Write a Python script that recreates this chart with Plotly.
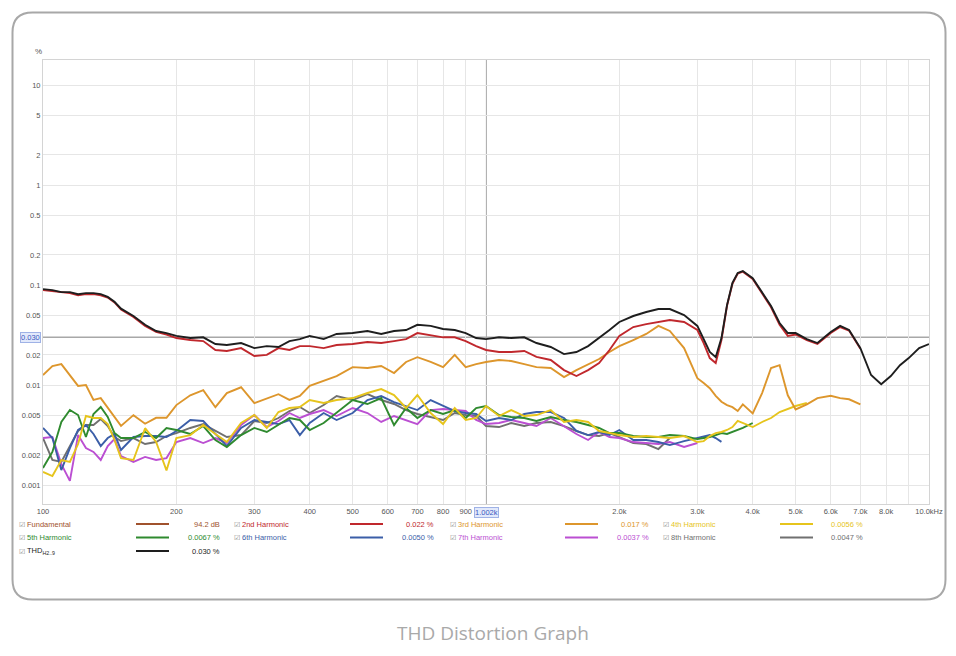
import math

import plotly.graph_objects as go

# frequency grid (Hz) shared by all traces; each series runs as far as it has values
FREQ = [100, 105, 110, 115, 120, 125, 130, 135, 140, 145, 150, 160, 170, 180, 190,
        200, 215, 230, 245, 260, 280, 300, 320, 340, 360, 380, 400, 430, 460, 500,
        540, 580, 620, 660, 700, 750, 800, 850, 900, 950, 1000, 1070, 1140, 1220,
        1300, 1400, 1500, 1600, 1700, 1800, 1900, 2000, 2150, 2300, 2450, 2600,
        2800, 3000, 3100, 3200, 3300, 3400, 3500, 3600, 3700, 3800, 4000, 4200,
        4400, 4600, 4800, 5000, 5300, 5600, 6000, 6300, 6600, 7000, 7400, 7800,
        8200, 8600, 9000, 9500, 10000]

# distortion in %
THD = [0.091, 0.089, 0.085, 0.085, 0.081, 0.083, 0.083, 0.081, 0.076, 0.068,
       0.058, 0.049, 0.040, 0.0347, 0.0331, 0.031, 0.0295, 0.030, 0.0257, 0.0251,
       0.0263, 0.0234, 0.0245, 0.024, 0.0275, 0.0288, 0.031, 0.0288, 0.0324, 0.0331,
       0.0347, 0.0324, 0.0347, 0.0355, 0.040, 0.039, 0.0363, 0.0355, 0.0331, 0.0295,
       0.0288, 0.030, 0.0295, 0.030, 0.0263, 0.024, 0.0204, 0.0214, 0.0245, 0.0295,
       0.0355, 0.0427, 0.049, 0.0537, 0.0575, 0.0575, 0.050, 0.039, 0.0282, 0.0214,
       0.0190, 0.0295, 0.063, 0.105, 0.132, 0.138, 0.117, 0.085, 0.0617, 0.0417,
       0.0331, 0.0331, 0.0288, 0.0263, 0.0339, 0.039, 0.0355, 0.0234, 0.0126, 0.0102,
       0.0123, 0.0158, 0.0186, 0.0234, 0.0257]
H2 = [0.089, 0.087, 0.084, 0.083, 0.079, 0.081, 0.081, 0.079, 0.075, 0.067,
      0.057, 0.048, 0.039, 0.034, 0.032, 0.0295, 0.0282, 0.0275, 0.0224, 0.0219,
      0.0234, 0.0195, 0.020, 0.0234, 0.0224, 0.0245, 0.0245, 0.0234, 0.0251, 0.0257,
      0.0269, 0.0263, 0.0275, 0.0288, 0.0331, 0.0316, 0.030, 0.030, 0.0275, 0.0245,
      0.0224, 0.0214, 0.0214, 0.0219, 0.0191, 0.0178, 0.0141, 0.0123, 0.0141, 0.0166,
      0.0224, 0.031, 0.038, 0.0407, 0.0427, 0.0447, 0.0427, 0.0355, 0.0263, 0.0186,
      0.0166, 0.0282, 0.062, 0.103, 0.130, 0.136, 0.115, 0.083, 0.060, 0.040,
      0.031, 0.032, 0.0282, 0.0257, 0.0331, 0.038, 0.035, 0.023]
H3 = [0.0126, 0.0155, 0.0162, 0.0126, 0.0098, 0.010, 0.0071, 0.0074, 0.0059, 0.0047,
      0.0039, 0.005, 0.0041, 0.0047, 0.0047, 0.0063, 0.0079, 0.0089, 0.006, 0.0083,
      0.0095, 0.0066, 0.0074, 0.0081, 0.0071, 0.0078, 0.0098, 0.011, 0.0123, 0.0151,
      0.0148, 0.0155, 0.0132, 0.017, 0.019, 0.017, 0.0151, 0.020, 0.0151, 0.0162,
      0.017, 0.0178, 0.0174, 0.0162, 0.0151, 0.0148, 0.012, 0.0141, 0.0162, 0.0182,
      0.0214, 0.0245, 0.0282, 0.0324, 0.039, 0.0347, 0.0234, 0.0117, 0.0105, 0.0093,
      0.0078, 0.0068, 0.0063, 0.006, 0.0055, 0.0064, 0.0052, 0.0083, 0.0148, 0.0158,
      0.0079, 0.0057, 0.0064, 0.0074, 0.0078, 0.0074, 0.0072, 0.0064]
H4 = [0.00135, 0.00123, 0.00178, 0.0017, 0.00257, 0.0049, 0.00468, 0.00468, 0.00407, 0.00282,
      0.00186, 0.00178, 0.0037, 0.0027, 0.0014, 0.00295, 0.00316, 0.00398, 0.00324, 0.00269,
      0.00417, 0.00501, 0.00372, 0.00537, 0.00589, 0.00603, 0.00708, 0.00661, 0.00708, 0.00741,
      0.00832, 0.00912, 0.00794, 0.00589, 0.00794, 0.00525, 0.00407, 0.00589, 0.00447, 0.00468,
      0.00617, 0.0049, 0.00562, 0.0049, 0.00501, 0.00562, 0.00427, 0.00447, 0.00427, 0.00347,
      0.00331, 0.00316, 0.00302, 0.00309, 0.00302, 0.00295, 0.00309, 0.00269, 0.00275, 0.00309,
      0.00331, 0.00339, 0.00355, 0.0038, 0.00437, 0.00417, 0.0038, 0.00427, 0.00468, 0.00537,
      0.00575, 0.00617, 0.00661]
H5 = [0.00148, 0.00214, 0.00427, 0.00562, 0.00501, 0.00302, 0.00513, 0.00603, 0.00479, 0.00331,
      0.00295, 0.00295, 0.00339, 0.00295, 0.00372, 0.00355, 0.00324, 0.00389, 0.00282, 0.0024,
      0.00316, 0.00372, 0.00339, 0.00398, 0.00468, 0.00447, 0.00355, 0.00417, 0.00525, 0.00708,
      0.00646, 0.00741, 0.00398, 0.00589, 0.00468, 0.00562, 0.00513, 0.00562, 0.00468, 0.00589,
      0.00617, 0.00501, 0.00479, 0.00468, 0.00437, 0.00479, 0.00447, 0.00427, 0.00398, 0.00372,
      0.00331, 0.00331, 0.00309, 0.00302, 0.00302, 0.00316, 0.00309, 0.00288, 0.00295, 0.00302,
      0.00316, 0.00331, 0.00324, 0.00339, 0.00355, 0.00372, 0.00417]
H6 = [0.00372, 0.00295, 0.00141, 0.00234, 0.00355, 0.00398, 0.00324, 0.00245, 0.00295, 0.00324,
      0.00224, 0.00302, 0.00309, 0.00309, 0.00302, 0.00347, 0.00447, 0.00437, 0.00324, 0.00245,
      0.00372, 0.00447, 0.00427, 0.00407, 0.00447, 0.00316, 0.00417, 0.00525, 0.00447, 0.00525,
      0.00708, 0.00776, 0.00676, 0.00617, 0.00562, 0.00708, 0.00617, 0.0055, 0.00525, 0.00513,
      0.00437, 0.00468, 0.00447, 0.00513, 0.00537, 0.00537, 0.00468, 0.00347, 0.00316, 0.00339,
      0.00316, 0.00355, 0.00282, 0.00282, 0.00269, 0.00251, 0.00275, 0.00295, 0.00302, 0.00316,
      0.00295, 0.0027]
H7 = [0.00295, 0.00302, 0.00162, 0.0011, 0.00316, 0.00234, 0.00214, 0.00178, 0.00245, 0.00288,
      0.00195, 0.0017, 0.00191, 0.00178, 0.00186, 0.00269, 0.00295, 0.00263, 0.00295, 0.00263,
      0.00398, 0.00501, 0.0038, 0.00437, 0.00525, 0.00468, 0.00513, 0.00562, 0.0049, 0.00589,
      0.00525, 0.00427, 0.0049, 0.00447, 0.00407, 0.00562, 0.00575, 0.00562, 0.0055, 0.00447,
      0.00407, 0.00417, 0.00447, 0.00417, 0.00389, 0.00468, 0.00389, 0.00324, 0.00282, 0.00339,
      0.00302, 0.00295, 0.00269, 0.00263, 0.00257, 0.00269, 0.0024, 0.00263]
H8 = [0.00295, 0.00178, 0.0017, 0.00245, 0.00347, 0.00398, 0.00398, 0.00457, 0.00389, 0.00302,
      0.00275, 0.00295, 0.00257, 0.00269, 0.00309, 0.00331, 0.00372, 0.00407, 0.00347, 0.00302,
      0.00316, 0.00437, 0.00417, 0.00468, 0.0055, 0.00603, 0.00525, 0.00631, 0.00776, 0.00708,
      0.00813, 0.00708, 0.00646, 0.00562, 0.00513, 0.00479, 0.00447, 0.00525, 0.00501, 0.0049,
      0.00389, 0.0038, 0.00417, 0.00389, 0.00417, 0.00427, 0.00389, 0.00347, 0.00316, 0.00309,
      0.00331, 0.00302, 0.00263, 0.00257, 0.00229, 0.00295]

X_TICKS = [100, 200, 300, 400, 500, 600, 700, 800, 900, 2000, 3000, 4000, 5000,
           6000, 7000, 8000, 10000]
X_LABELS = ["100", "200", "300", "400", "500", "600", "700", "800", "900", "2.0k",
            "3.0k", "4.0k", "5.0k", "6.0k", "7.0k", "8.0k", "10.0kHz"]
X_GRID_ONLY = [9000]
Y_TICKS = [0.001, 0.002, 0.005, 0.01, 0.02, 0.05, 0.1, 0.2, 0.5, 1, 2, 5, 10]
Y_LABELS = ["0.001", "0.002", "0.005", "0.01", "0.02", "0.05", "0.1", "0.2", "0.5",
            "1", "2", "5", "10"]

CURSOR_F = 1002
CURSOR_V = 0.030

LEG_NAMES = ["Fundamental", "2nd Harmonic", "3rd Harmonic", "4th Harmonic",
             "5th Harmonic", "6th Harmonic", "7th Harmonic", "8th Harmonic",
             "THD<sub>H2..9</sub>"]
LEG_VALUES = ["94.2 dB", "0.022 %", "0.017 %", "0.0056 %", "0.0067 %", "0.0050 %",
              "0.0037 %", "0.0047 %", "0.030 %"]

COLORS = {
    "Fundamental": "#a0522d",
    "2nd Harmonic": "#c0282d",
    "3rd Harmonic": "#dd962c",
    "4th Harmonic": "#e6c41c",
    "5th Harmonic": "#2f8a2f",
    "6th Harmonic": "#3b5ea8",
    "7th Harmonic": "#bb4fd2",
    "8th Harmonic": "#707070",
    "THD<sub>H2..9</sub>": "#1e1e1e",
}

W, H = 956, 656
PL, PR, PT, PB = 43, 929, 60, 504  # plot area in pixels


def px(x):
    return (x - PL) / (PR - PL)


def py(y):
    return (PB - y) / (PB - PT)


fig = go.Figure()

# back to front
traces = [
    ("8th Harmonic", H8), ("7th Harmonic", H7), ("6th Harmonic", H6),
    ("5th Harmonic", H5), ("4th Harmonic", H4), ("3rd Harmonic", H3),
    ("2nd Harmonic", H2), ("THD<sub>H2..9</sub>", THD),
]
for name, vals in traces:
    fig.add_trace(go.Scatter(
        x=FREQ[:len(vals)], y=vals, mode="lines", name=name,
        line=dict(color=COLORS[name], width=1.9),
        showlegend=False, hoverinfo="skip",
    ))

# cursor cross
fig.add_shape(type="line", xref="x", yref="paper", x0=CURSOR_F, x1=CURSOR_F,
              y0=0, y1=1, line=dict(color="#a8a8a8", width=1), layer="below")
fig.add_shape(type="line", xref="paper", yref="y", x0=0, x1=1,
              y0=CURSOR_V, y1=CURSOR_V, line=dict(color="#a8a8a8", width=1.5), layer="below")

font = "Liberation Sans, Arial, sans-serif"


def note(x, y, text, size, color, anchor="center", family=font, **kw):
    return dict(xref="paper", yref="paper", x=x, y=y, text=text, showarrow=False,
                xanchor=anchor, yanchor="middle",
                font=dict(size=size, color=color, family=family), **kw)


annotations = [
    note(px(38), py(52), "%", 8, "#555555"),
    note(px(493), py(633), "THD Distortion Graph", 19, "#a9a9a9",
         family="Open Sans, sans-serif"),
    dict(xref="x", yref="paper", x=math.log10(CURSOR_F), y=0, yshift=-3,
         yanchor="top", text="1.002k", showarrow=False,
         font=dict(size=7.5, color="#3a58c0", family=font),
         bgcolor="#e2e9fb", bordercolor="#9fb2e6", borderwidth=1, borderpad=0),
    dict(xref="paper", yref="y", x=0, y=math.log10(CURSOR_V), xshift=-2,
         xanchor="right", text="0.030", showarrow=False,
         font=dict(size=7.5, color="#3a58c0", family=font),
         bgcolor="#e2e9fb", bordercolor="#9fb2e6", borderwidth=1, borderpad=0),
]

# REW-style legend underneath the plot
name_x = [25, 240, 456, 669]
line_x = [136, 350, 565, 780]
val_x = [222, 436, 651, 865]
row_y = [524, 537.5, 551]
for i, (name, value) in enumerate(zip(LEG_NAMES, LEG_VALUES)):
    col, row = i % 4, i // 4
    c = COLORS[name]
    yy = py(row_y[row])
    annotations.append(note(px(name_x[col] - 8), yy, "☑", 6.5, "#888888", anchor="left"))
    annotations.append(note(px(name_x[col]), yy, name, 7.5, c, anchor="left"))
    annotations.append(note(px(val_x[col]), yy, value, 7.5, c, anchor="right"))
    fig.add_shape(type="line", xref="paper", yref="paper",
                  x0=px(line_x[col]), x1=px(line_x[col] + 33), y0=yy, y1=yy,
                  line=dict(color=c, width=2))

# rounded card frame
cl, cr, ct, cb, rad = 12.5, 945.5, 12.5, 599.5, 20
card = (f"M {px(cl + rad)},{py(ct)} L {px(cr - rad)},{py(ct)} "
        f"Q {px(cr)},{py(ct)} {px(cr)},{py(ct + rad)} L {px(cr)},{py(cb - rad)} "
        f"Q {px(cr)},{py(cb)} {px(cr - rad)},{py(cb)} L {px(cl + rad)},{py(cb)} "
        f"Q {px(cl)},{py(cb)} {px(cl)},{py(cb - rad)} L {px(cl)},{py(ct + rad)} "
        f"Q {px(cl)},{py(ct)} {px(cl + rad)},{py(ct)} Z")
fig.add_shape(type="path", xref="paper", yref="paper", path=card,
              line=dict(color="#a8a8a8", width=2))

axis_common = dict(
    type="log", showgrid=True, gridcolor="#e6e6e6", gridwidth=1,
    showline=True, linecolor="#d4d4d4", linewidth=1, mirror=True,
    ticks="", zeroline=False,
    tickfont=dict(size=7.5, color="#555555", family=font),
)
fig.update_layout(
    width=W, height=H,
    margin=dict(l=PL, r=W - PR, t=PT, b=H - PB),
    paper_bgcolor="white", plot_bgcolor="white",
    xaxis=dict(range=[2, 4], tickvals=X_TICKS, ticktext=X_LABELS,
               minor=dict(tickvals=X_GRID_ONLY, showgrid=True, gridcolor="#e6e6e6",
                          ticks=""),
               **axis_common),
    yaxis=dict(range=[math.log10(0.000646), math.log10(17.8)], tickvals=Y_TICKS,
               ticktext=Y_LABELS, **axis_common),
    annotations=annotations,
    showlegend=False,
)

fig.write_html("out.html", config={"displayModeBar": False},
               post_script="document.body.style.margin='0';")
